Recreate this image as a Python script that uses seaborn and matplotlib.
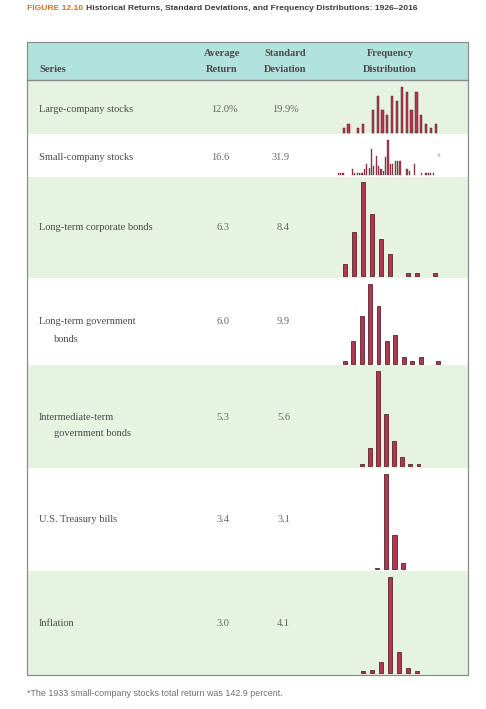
import matplotlib
matplotlib.use("Agg")
import matplotlib.pyplot as plt
import seaborn as sns
import pandas as pd
from matplotlib.patches import Rectangle

# table content
series = ["Large-company stocks", "Small-company stocks", "Long-term corporate bonds",
          "Long-term government\nbonds", "Intermediate-term\ngovernment bonds",
          "U.S. Treasury bills", "Inflation"]
avg_return = ["12.0", "16.6", "6.3", "6.0", "5.3", "3.4", "3.0"]
std_dev = ["19.9", "31.9", "8.4", "9.9", "5.6", "3.1", "4.1"]

# frequency per return bin (empty bins = 0)
large_freq = [1, 2, 0, 1, 2, 0, 5, 8, 5, 4, 8, 7, 10, 9, 5, 9, 4, 2, 1, 2]
small_freq = [1, 1, 1, 0, 0, 0, 3, 1, 1, 1, 1, 3, 6, 4, 15, 5, 11, 5, 3, 2, 10,
              20, 6, 6, 8, 8, 8, 0, 0, 3, 2, 0, 6, 0, 0, 1, 0, 1, 1, 1, 1]
corp_freq = [4, 14, 30, 20, 12, 7, 0, 1, 1, 0, 1]
gov_freq = [1, 7, 15, 25, 18, 7, 9, 2, 1, 2, 0, 1]
inter_freq = [1, 8, 42, 23, 11, 4, 1, 1]
tbill_freq = [1, 63, 23, 4]
infl_freq = [1, 2, 7, 63, 14, 3, 1]
freqs = [large_freq, small_freq, corp_freq, gov_freq, inter_freq, tbill_freq, infl_freq]

footnote = "*The 1933 small-company stocks total return was 142.9 percent."

W, H = 486, 709
fig = plt.figure(figsize=(W / 100, H / 100), dpi=100)
bg = fig.add_axes([0, 0, 1, 1])
bg.set_xlim(0, W)
bg.set_ylim(H, 0)
bg.axis("off")

serif = "Liberation Serif"
sans = "Liberation Sans"
green = "#e6f3e0"
teal = "#b2e2de"
line_col = "#8c8c8c"
txt_col = "#4a4a4a"
num_col = "#666666"
bar_col = "#b3364e"
bar_edge = "#55262f"

# title
t1 = fig.text(27 / W, 1 - 8 / H, "FIGURE 12.10 ", color="#e0701e", fontsize=6.1,
              fontweight="bold", family=sans, va="center")
bg.annotate("Historical Returns, Standard Deviations, and Frequency Distributions: 1926\u20132016",
            xy=(1, 0.5), xycoords=t1, va="center", ha="left", color="#3c3c3c",
            fontsize=6.1, fontweight="bold", family=sans)

# row bands
bands = [(80, 134), (134, 177), (177, 278), (278, 365), (365, 468), (468, 571), (571, 675)]
for i, (y0, y1) in enumerate(bands):
    bg.add_patch(Rectangle((27, y0), 441, y1 - y0, facecolor=green if i % 2 == 0 else "white",
                           edgecolor="none"))

# header
bg.add_patch(Rectangle((27, 42), 441, 38, facecolor=teal, edgecolor="none"))
bg.plot([27, 468], [80, 80], color=line_col, lw=1.0)
bg.add_patch(Rectangle((27, 42), 441, 633, facecolor="none", edgecolor=line_col, lw=0.9))
hdr = dict(fontsize=7.5, fontweight="bold", family=serif, color=txt_col, va="center")
bg.text(39, 70, "Series", ha="left", **hdr)
for cx, l1, l2 in [(222, "Average", "Return"), (285, "Standard", "Deviation"),
                   (390, "Frequency", "Distribution")]:
    bg.text(cx, 54, l1, ha="center", **hdr)
    bg.text(cx, 70, l2, ha="center", **hdr)

# row texts
text_y = [109, 157, 228, 322, 417, 520, 624]
body = dict(fontsize=7.5, family=serif, va="center")
for i, name in enumerate(series):
    lines = name.split("\n")
    bg.text(39, text_y[i], lines[0], ha="left", color=txt_col, **body)
    if len(lines) > 1:
        bg.text(54, text_y[i] + 17, lines[1], ha="left", color=txt_col, **body)
    bg.text(229, text_y[i], avg_return[i], ha="right", color=num_col, **body)
    bg.text(290, text_y[i], std_dev[i], ha="right", color=num_col, **body)
    if i == 0:
        bg.text(229, text_y[i], "%", ha="left", color=num_col, **body)
        bg.text(290, text_y[i], "%", ha="left", color=num_col, **body)

# footnote marker for small-company outlier
bg.text(439, 157, "*", ha="center", va="center", color="#aaaaaa", fontsize=7, family=sans)

bg.text(27, 694, footnote, ha="left", va="center", color="#707070", fontsize=6.4, family=sans)

# histogram placement: first bin center x, bin spacing, baseline y, tallest-bar top y (pixels)
hist_layout = [(343.7, 4.85, 133, 87), (338.3, 2.37, 174.7, 140), (345, 9.0, 276, 182.3),
               (344.7, 8.45, 363.7, 284), (361.7, 8.1, 466, 371), (376.7, 8.9, 569.3, 474.3),
               (363, 9.0, 672.7, 577.3)]

for counts, (x0, dx, base, top) in zip(freqs, hist_layout):
    n = len(counts)
    left = x0 - dx / 2
    ax = fig.add_axes([left / W, 1 - base / H, n * dx / W, (base - top) / H])
    df = pd.DataFrame({"bin": range(n), "count": counts})
    df = df[df["count"] > 0]
    lw = 0.6 if dx > 6 else (0.35 if dx > 3 else 0.25)
    sns.barplot(data=df, x="bin", y="count", native_scale=True,
                width=0.46 if dx > 3 else 0.5,
                color=bar_col, saturation=1, edgecolor=bar_edge, linewidth=lw, ax=ax)
    ax.set_xlim(-0.5, n - 0.5)
    ax.set_ylim(0, max(counts))
    ax.patch.set_alpha(0)
    ax.axis("off")
    for p in ax.patches:
        p.set_clip_on(False)

fig.savefig("out.png", dpi=100)
